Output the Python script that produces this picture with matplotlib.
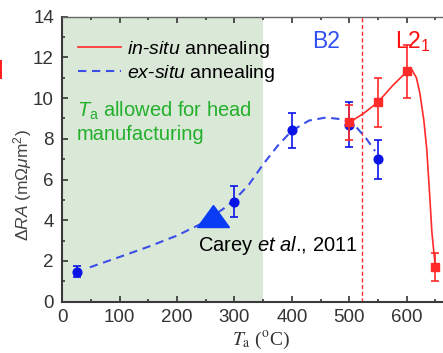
import matplotlib
matplotlib.use("Agg")
from matplotlib import pyplot as plt
from matplotlib.markers import MarkerStyle
from matplotlib.patches import Rectangle
from matplotlib.transforms import Affine2D
import numpy as np

# ex-situ annealing (measured points)
ex_T = [25, 300, 400, 500, 550]
ex_RA = [1.48, 4.92, 8.41, 8.69, 7.0]
ex_err = [0.25, 0.77, 0.87, 1.1, 0.95]

# in-situ annealing (measured points)
in_T = [500, 550, 600, 650]
in_RA = [8.81, 9.79, 11.31, 1.72]
in_err = [0.87, 1.2, 1.3, 0.68]

# Carey et al., 2011
carey_T = [262]
carey_RA = [4.2]

# guide curves
ex_fit_T = [48, 100, 150, 200, 240, 280, 300, 325, 350, 375, 400, 430, 460, 490, 510, 530, 545]
ex_fit_RA = [1.69, 2.2, 2.7, 3.25, 3.8, 4.55, 5.0, 5.75, 6.75, 7.65, 8.4, 8.9, 9.05, 8.95, 8.65, 8.0, 7.4]
in_fit_T = [500, 525, 550, 575, 600, 609, 617, 623, 630, 635, 640, 644, 650]
in_fit_RA = [8.8, 9.25, 9.8, 10.6, 11.3, 11.4, 11.0, 10.25, 8.9, 7.5, 5.3, 3.4, 1.7]

head_limit = 350
phase_boundary = 522

plt.rcParams["font.family"] = ["Liberation Sans", "DejaVu Sans"]
plt.rcParams["mathtext.fontset"] = "custom"
plt.rcParams["mathtext.rm"] = "Liberation Sans"
plt.rcParams["mathtext.it"] = "Liberation Sans:italic"

BLUE = "#0a14e6"
BLUE_LINE = "#3c4ee8"
RED = "#ff2a2a"
GREEN = "#22b02a"

fig = plt.figure(figsize=(4.43, 3.53), dpi=100)
ax = fig.add_axes([0.1406, 0.1453, 0.881, 0.8074])
ax.set_xlim(0, 680)
ax.set_ylim(0, 14)

ax.axvspan(0, head_limit, color="#dae8d8", zorder=0, lw=0)
ax.axvline(phase_boundary, color=RED, lw=1.0, ls=(0, (3, 1.8)), zorder=1)

ax.plot(ex_fit_T, ex_fit_RA, color=BLUE_LINE, lw=1.5, dashes=(4, 2.7), zorder=2)
ax.plot(in_fit_T, in_fit_RA, color=RED, lw=1.2, zorder=3)

ax.errorbar(ex_T, ex_RA, yerr=ex_err, fmt="o", color=BLUE, ms=6.3,
            capsize=2.6, elinewidth=1.2, capthick=1.2, zorder=4)
ax.errorbar(in_T, in_RA, yerr=in_err, fmt="s", color=RED, ms=5.3,
            capsize=2.6, elinewidth=1.2, capthick=1.2, zorder=5)

tri = MarkerStyle("^", transform=Affine2D().scale(1.45, 1.0))
ax.plot(carey_T, carey_RA, ls="none", marker=tri, ms=16, color="#0b3cf5", zorder=6)

h1, = ax.plot([], [], color=RED, lw=1.2)
h2, = ax.plot([], [], color=BLUE_LINE, lw=1.5, dashes=(4, 2.7))
ax.legend([h1, h2], [r"$\mathit{in}$-$\mathit{situ}$ annealing", r"$\mathit{ex}$-$\mathit{situ}$ annealing"],
          loc="upper left", bbox_to_anchor=(0.04, 0.922), frameon=False, fontsize=14,
          handlelength=2.2, handletextpad=0.3, labelspacing=0.15, borderpad=0, borderaxespad=0)

ax.text(25, 9.1, r"$T_{\mathrm{a}}$ allowed for head", color=GREEN, fontsize=14.5, va="baseline")
ax.text(25, 7.95, "manufacturing", color=GREEN, fontsize=14.5, va="baseline")
ax.text(435, 12.8, "B2", color="#3050f0", fontsize=16.5, va="center")
ax.text(580, 12.8, r"L2$_1$", color="#ff1010", fontsize=16.5, va="center")
ax.text(237, 2.5, r"Carey $\mathit{et}$ $\mathit{al}$., 2011", color="black", fontsize=14.5, va="baseline")

ax.set_xticks(np.arange(0, 700, 100))
ax.set_xticks(np.arange(50, 700, 100), minor=True)
ax.set_yticks(np.arange(0, 15, 2))
ax.set_yticks(np.arange(1, 14, 2), minor=True)
ax.tick_params(which="both", direction="in", top=True, right=False, colors="#333333",
               labelsize=13.5, width=1.2)
ax.tick_params(which="major", length=4)
ax.tick_params(which="minor", length=2.5)
ax.tick_params(axis="y", pad=6)
ax.tick_params(axis="x", pad=5)
for s in ["left", "bottom"]:
    ax.spines[s].set_color("#3a3a3a")
    ax.spines[s].set_linewidth(1.5)
ax.spines["top"].set_color("#666666")
ax.spines["top"].set_linewidth(1.0)
ax.spines["right"].set_visible(False)

fig.text(0.05, 0.475, r"$\mathit{\Delta RA}$ (m$\Omega\mu$m$^2$)", rotation=90,
         ha="center", va="center", fontsize=12.5, color="#444444")
fig.text(0.59, 0.022, r"$T_{\rm a}$ ($^{\rm o}$C)", ha="center", va="baseline",
         fontsize=14, color="#333333", family="Liberation Serif", math_fontfamily="stix")

# red fragment cut off at the left edge
fig.add_artist(Rectangle((0, 0.775), 0.005, 0.055, transform=fig.transFigure,
                         color="#ff2020", lw=0))

fig.savefig("out.png", dpi=100)
